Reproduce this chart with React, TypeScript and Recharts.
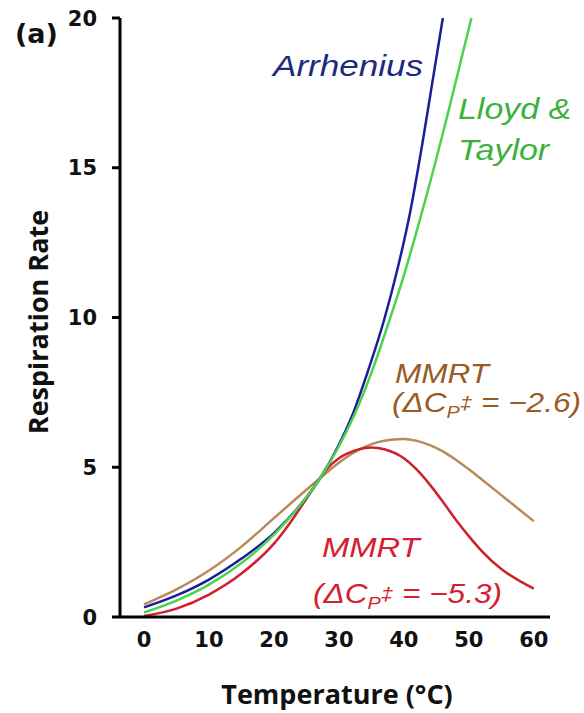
import React from 'react';
import { LineChart, Line, XAxis, YAxis } from 'recharts';

// Temperature (°C) and respiration rate
const arrheniusT = [0, 5, 10, 15, 20, 25, 27, 30, 32, 34.5, 37, 39, 41, 43, 44.5, 46];
const arrheniusR = [0.32, 0.72, 1.25, 1.95, 2.8, 4.0, 4.6, 5.75, 6.7, 8.23, 9.95, 11.6, 13.55, 16.0, 18.0, 20];

const lloydT = [0, 5, 10, 15, 20, 25, 27, 30, 33, 35, 38, 40, 42, 45, 47, 50.4];
const lloydR = [0.15, 0.55, 1.08, 1.8, 2.75, 4.0, 4.6, 5.7, 7.05, 8.15, 10.05, 11.4, 12.9, 15.3, 17.0, 20];

const mmrt26T = [0, 5, 10, 15, 20, 25, 28, 30, 32, 34, 36, 38, 40, 42, 44, 46, 48, 50, 52, 55, 58, 60];
const mmrt26R = [0.42, 0.92, 1.55, 2.35, 3.3, 4.25, 4.8, 5.15, 5.45, 5.68, 5.84, 5.92, 5.94, 5.88, 5.74, 5.53, 5.25, 4.93, 4.59, 4.07, 3.55, 3.2];

const mmrt53T = [0, 5, 10, 15, 20, 22.5, 25, 27, 28, 30, 32, 34, 35, 37, 40, 42, 44, 46, 48, 50, 52, 55, 58, 60];
const mmrt53R = [0.03, 0.28, 0.75, 1.45, 2.45, 3.15, 3.95, 4.6, 4.9, 5.3, 5.52, 5.64, 5.66, 5.6, 5.3, 4.92, 4.42, 3.85, 3.25, 2.7, 2.2, 1.6, 1.18, 0.95];

const xTicks = [0, 10, 20, 30, 40, 50, 60];
const yTicks = [0, 5, 10, 15, 20];

const toRows = (ts: number[], rs: number[]) => ts.map((t, i) => ({ t, r: rs[i] }));

const arrheniusData = toRows(arrheniusT, arrheniusR);
const lloydData = toRows(lloydT, lloydR);
const mmrt26Data = toRows(mmrt26T, mmrt26R);
const mmrt53Data = toRows(mmrt53T, mmrt53R);

const W = 584;
const H = 713;
const TICK_FONT = '"DejaVu Sans", "Liberation Sans", sans-serif';
const ANNO_FONT = '"Liberation Sans", Arial, sans-serif';
const TITLE_FONT = '"Open Sans", "DejaVu Sans", sans-serif';

const XTick = (props: any) => {
  const { x, y, payload } = props;
  return (
    <text x={x} y={y} dy={30} textAnchor="middle" fontFamily={TICK_FONT} fontWeight="bold" fontSize={21} fill="#111">
      {payload.value}
    </text>
  );
};

const YTick = (props: any) => {
  const { x, y, payload } = props;
  return (
    <text x={x} y={y} dy={7.5} textAnchor="end" fontFamily={TICK_FONT} fontWeight="bold" fontSize={21} fill="#111">
      {payload.value}
    </text>
  );
};

const SText = ({ x, y, size, color, children, sx = 1.17 }: any) => (
  <text
    transform={`translate(${x} ${y}) scale(${sx} 1)`}
    fontSize={size}
    fill={color}
    fontStyle="italic"
    fontFamily={ANNO_FONT}
  >
    {children}
  </text>
);

const Eq = ({ x, y, color, value }: any) => (
  <SText x={x} y={y} size={27} color={color}>
    (ΔC
    <tspan fontSize={17} dy={6}>P</tspan>
    <tspan fontSize={19} dy={-9}>‡</tspan>
    <tspan dy={3}>{` = ${value})`}</tspan>
  </SText>
);

export default function App() {
  return (
    <div style={{ position: 'absolute', left: 0, top: 0, width: W, height: H, background: '#fff' }}>
      <LineChart width={W} height={H} margin={{ top: 18, right: 34, bottom: 0, left: 0 }}>
        <XAxis
          type="number"
          dataKey="t"
          domain={[-3.7, 62.5]}
          ticks={xTicks}
          allowDataOverflow
          height={96}
          tickSize={0}
          tickMargin={0}
          tickLine={false}
          axisLine={{ stroke: '#000', strokeWidth: 3 }}
          tick={<XTick />}
        />
        <YAxis
          type="number"
          domain={[0, 20]}
          ticks={yTicks}
          allowDataOverflow
          width={120}
          tickSize={8}
          tickMargin={15}
          tickLine={{ stroke: '#000', strokeWidth: 3 }}
          axisLine={{ stroke: '#000', strokeWidth: 3 }}
          tick={<YTick />}
        />
        <Line data={mmrt26Data} dataKey="r" type="monotone" stroke="#b8895a" strokeWidth={2.5} dot={false} isAnimationActive={false} />
        <Line data={mmrt53Data} dataKey="r" type="monotone" stroke="#cf1f2e" strokeWidth={2.5} dot={false} isAnimationActive={false} />
        <Line data={arrheniusData} dataKey="r" type="monotone" stroke="#1d1d9b" strokeWidth={2.5} dot={false} isAnimationActive={false} />
        <Line data={lloydData} dataKey="r" type="monotone" stroke="#4cd34c" strokeWidth={2.5} dot={false} isAnimationActive={false} />
      </LineChart>
      <svg width={W} height={H} style={{ position: 'absolute', left: 0, top: 0, pointerEvents: 'none' }}>
        <text x={15} y={43} fontFamily={TICK_FONT} fontWeight="bold" fontSize={27} fill="#111">(a)</text>
        <SText x={273} y={76} size={30} color="#1e2a7e">Arrhenius</SText>
        <SText x={458} y={119} size={29} color="#3db13d">Lloyd &amp;</SText>
        <SText x={458} y={160} size={29} color="#3db13d">Taylor</SText>
        <SText x={395} y={383} size={27} color="#9a5b25">MMRT</SText>
        <Eq x={392} y={412} color="#9a5b25" value="−2.6" />
        <SText x={322} y={557} size={28} color="#d42030">MMRT</SText>
        <Eq x={313} y={603} color="#d42030" value="−5.3" />
        <text x={337} y={704} textAnchor="middle" fontFamily={TITLE_FONT} fontWeight="bold" fontSize={27} fill="#111">
          Temperature (°C)
        </text>
        <text transform="translate(48 322) rotate(-90)" textAnchor="middle" fontFamily={TITLE_FONT} fontWeight="bold" fontSize={27} fill="#111">
          Respiration Rate
        </text>
      </svg>
    </div>
  );
}
